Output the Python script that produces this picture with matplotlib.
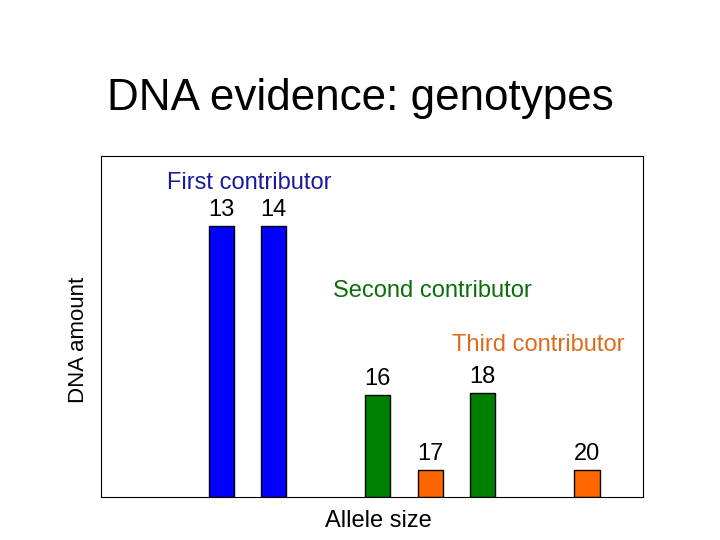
import matplotlib.pyplot as plt

plt.rcParams['font.family'] = ['Liberation Sans', 'DejaVu Sans']

# allele sizes and DNA amounts
first_alleles = [13, 14]
first_amount = [79.5, 79.5]
second_alleles = [16, 18]
second_amount = [30, 30.5]
third_alleles = [17, 20]
third_amount = [8, 8]

fig = plt.figure(figsize=(7.2, 5.4), dpi=100)
ax = fig.add_axes([0.140, 0.080, 0.753, 0.631])

groups = [
    (first_alleles, first_amount, '#0000ff'),
    (second_alleles, second_amount, '#008000'),
    (third_alleles, third_amount, '#ff6600'),
]
for alleles, amounts, col in groups:
    ax.bar(alleles, amounts, width=0.48, color=col, edgecolor='black', linewidth=1)
    for a, h in zip(alleles, amounts):
        ax.annotate(str(a), (a, h), xytext=(0, 11.2), textcoords='offset points',
                    ha='center', va='center', fontsize=17)

ax.text(13.54, 92.1, 'First contributor', color='#1a1a9a', fontsize=17,
        ha='center', va='center')
ax.text(17.04, 60.4, 'Second contributor', color='#0b6e0b', fontsize=17,
        ha='center', va='center')
ax.text(19.07, 44.6, 'Third contributor', color='#e06a1a', fontsize=17,
        ha='center', va='center')

ax.set_xlim(10.7, 21.07)
ax.set_ylim(0, 100)
ax.set_xticks([])
ax.set_yticks([])
ax.set_xlabel('Allele size', fontsize=17)
ax.set_ylabel('DNA amount', fontsize=16)
ax.xaxis.set_label_coords((378 - 101) / 542, -0.039)
ax.yaxis.set_label_coords(-0.022, 0.462)

fig.text(0.5, 0.817, 'DNA evidence: genotypes', fontsize=31.7, ha='center', va='center')

fig.savefig('out.png')
